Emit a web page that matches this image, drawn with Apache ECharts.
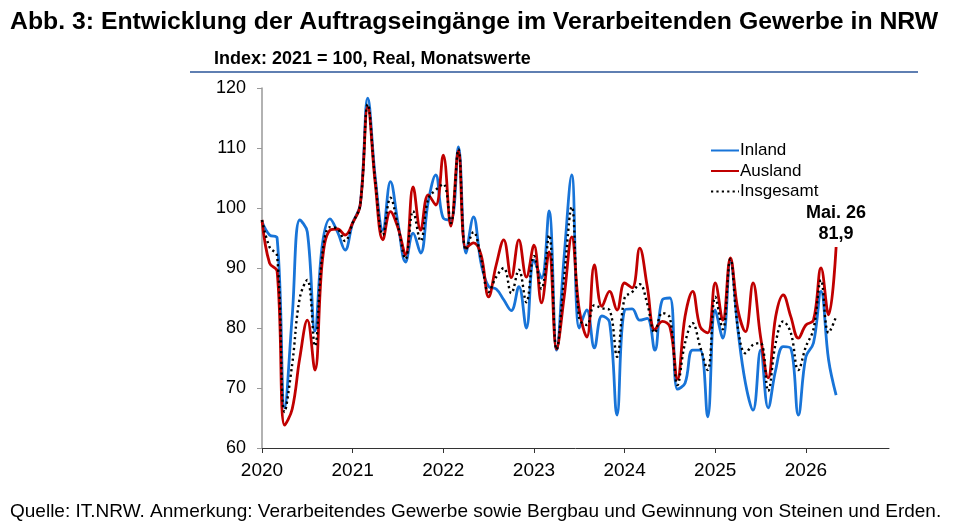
<!DOCTYPE html>
<html>
<head>
<meta charset="utf-8">
<script src="https://cdn.jsdelivr.net/npm/echarts@6/dist/echarts.min.js"></script>
<style>
  html, body { margin: 0; padding: 0; background: #fff; }
  #main { width: 972px; height: 528px; }
</style>
</head>
<body>
<div id="main"></div>
<script>
// Monatswerte Jan 2020 .. Mai 2026, Index 2021 = 100
var yearTicks = ['2020', '2021', '2022', '2023', '2024', '2025', '2026'];
var tickMonths = [0, 12, 24, 36, 48, 60, 72];
var seriesNames = ['Inland', 'Ausland', 'Insgesamt'];

var inland = [
  97.7, 95.5, 95.0, 66.7, 82.0, 98.0, 96.0, 79.5, 94.0, 98.2, 96.0, 93.0,
  97.5, 100.5, 118.3, 105.0, 96.3, 104.4, 97.5, 91.0, 95.8, 92.5, 101.0, 105.5,
  98.3, 98.0, 110.2, 92.5, 98.5, 90.8, 86.9, 86.5, 84.7, 82.9, 86.9, 80.0,
  91.3, 88.3, 99.5, 76.3, 92.0, 105.5, 80.0, 83.0, 76.7, 82.0, 81.0, 65.5,
  83.0, 83.2, 81.3, 81.6, 76.3, 84.7, 85.0, 69.8, 70.8, 76.3, 76.3, 65.2,
  83.0, 78.3, 91.3, 79.7, 70.8, 66.3, 76.3, 66.7, 73.0, 76.9, 76.6, 65.5,
  75.2, 77.5, 86.1, 74.7, 68.8
];
var ausland = [
  98.0, 90.8, 89.5, 63.8, 66.5, 75.0, 81.3, 73.0, 91.3, 96.3, 96.5, 95.5,
  97.5, 100.5, 116.8, 104.0, 94.7, 99.4, 96.7, 92.2, 103.5, 96.3, 102.2, 100.5,
  108.8, 97.0, 109.5, 93.3, 94.2, 92.2, 85.2, 90.5, 94.7, 88.4, 94.7, 88.5,
  93.8, 84.2, 92.7, 76.5, 85.2, 95.2, 83.0, 78.5, 90.5, 83.6, 86.1, 83.0,
  87.5, 86.7, 93.3, 86.9, 79.7, 81.1, 80.2, 71.5, 81.9, 86.1, 80.2, 79.2,
  87.5, 81.3, 91.7, 83.0, 79.4, 87.5, 78.5, 71.7, 81.9, 85.5, 81.9, 78.3,
  80.5, 81.3, 90.0, 82.2, 93.5
];
var insgesamt = [
  98.0, 93.5, 92.0, 66.0, 74.0, 85.0, 88.0, 77.0, 92.5, 96.8, 96.5, 94.5,
  97.5, 100.5, 117.3, 104.5, 95.5, 101.7, 97.0, 91.5, 99.5, 94.5, 101.5, 103.0,
  104.0, 97.5, 109.8, 93.0, 96.0, 91.5, 86.0, 88.5, 90.0, 85.8, 89.7, 84.3,
  92.0, 86.5, 95.5, 76.4, 88.5, 100.2, 81.5, 80.5, 83.8, 83.3, 83.0, 75.2,
  85.0, 86.0, 87.3, 84.0, 79.2, 82.5, 81.7, 70.5, 77.5, 80.8, 76.9, 73.0,
  85.2, 79.8, 91.5, 80.0, 75.8, 77.2, 77.5, 69.5, 77.5, 81.1, 79.2, 73.0,
  76.9, 79.8, 88.0, 79.2, 81.9
];
var lastLabel = 'Mai. 26\n81,9';

function pairs(arr) {
  return arr.map(function (v, i) { return [i, v]; });
}

var FONT = '"Liberation Sans", Arial, sans-serif';
var SMOOTH = 0.4;
var chart = echarts.init(document.getElementById('main'), null, { renderer: 'canvas' });

var option = {
  animation: false,
  backgroundColor: '#fff',
  textStyle: { fontFamily: FONT },
  grid: { left: 262, right: 83, top: 88, bottom: 80, containLabel: false },
  legend: {
    orient: 'vertical',
    left: 705,
    top: 137,
    itemWidth: 28,
    itemHeight: 12,
    itemGap: 3.5,
    data: seriesNames,
    itemStyle: { opacity: 0 },
    textStyle: { fontFamily: FONT, fontSize: 17, color: '#000', padding: [0, 0, 0, -4] }
  },
  xAxis: {
    type: 'value',
    min: 0,
    max: 83,
    splitLine: { show: false },
    axisLine: { lineStyle: { color: '#333', width: 1 } },
    axisTick: { show: true, length: 5, customValues: tickMonths, lineStyle: { color: '#333' } },
    axisLabel: {
      fontFamily: FONT, fontSize: 19, color: '#000', margin: 13,
      customValues: tickMonths,
      formatter: function (v) { return yearTicks[v / 12] || ''; }
    }
  },
  yAxis: {
    type: 'value',
    min: 60,
    max: 120,
    interval: 10,
    splitLine: { show: false },
    axisLine: { show: true, lineStyle: { color: '#999', width: 1.5 } },
    axisTick: { show: true, length: 5, lineStyle: { color: '#999' } },
    axisLabel: { fontFamily: FONT, fontSize: 18, color: '#000', margin: 16 }
  },
  series: [
    {
      name: seriesNames[0], type: 'line', smooth: SMOOTH, symbol: 'none',
      data: pairs(inland),
      lineStyle: { color: '#1874d8', width: 2.8 },
      itemStyle: { color: '#1874d8' }
    },
    {
      name: seriesNames[1], type: 'line', smooth: SMOOTH, symbol: 'none',
      data: pairs(ausland),
      lineStyle: { color: '#c00000', width: 2.8 },
      itemStyle: { color: '#c00000' }
    },
    {
      name: seriesNames[2], type: 'line', smooth: SMOOTH, symbol: 'none',
      data: pairs(insgesamt),
      lineStyle: { color: '#000', width: 2.4, type: [2.2, 3.2], cap: 'butt' },
      itemStyle: { color: '#000' }
    }
  ],
  graphic: [
    {
      type: 'text', left: 10, top: 10,
      style: {
        text: 'Abb. 3: Entwicklung der Auftragseingänge im Verarbeitenden Gewerbe in NRW',
        font: 'bold 24.8px ' + FONT, fill: '#000'
      }
    },
    {
      type: 'text', left: 214, top: 50,
      style: {
        text: 'Index: 2021 = 100, Real, Monatswerte',
        font: 'bold 18px ' + FONT, fill: '#000'
      }
    },
    {
      type: 'line',
      shape: { x1: 190, y1: 72, x2: 918, y2: 72 },
      style: { stroke: '#2a5599', lineWidth: 1.5 }
    },
    {
      type: 'text', x: 836, y: 203,
      style: {
        text: lastLabel, font: 'bold 18px ' + FONT, fill: '#000',
        align: 'center', lineHeight: 21
      }
    },
    {
      type: 'text', left: 10, top: 502,
      style: {
        text: 'Quelle: IT.NRW. Anmerkung: Verarbeitendes Gewerbe sowie Bergbau und Gewinnung von Steinen und Erden.',
        font: '19px ' + FONT, fill: '#000'
      }
    }
  ]
};

chart.setOption(option);
</script>
</body>
</html>
